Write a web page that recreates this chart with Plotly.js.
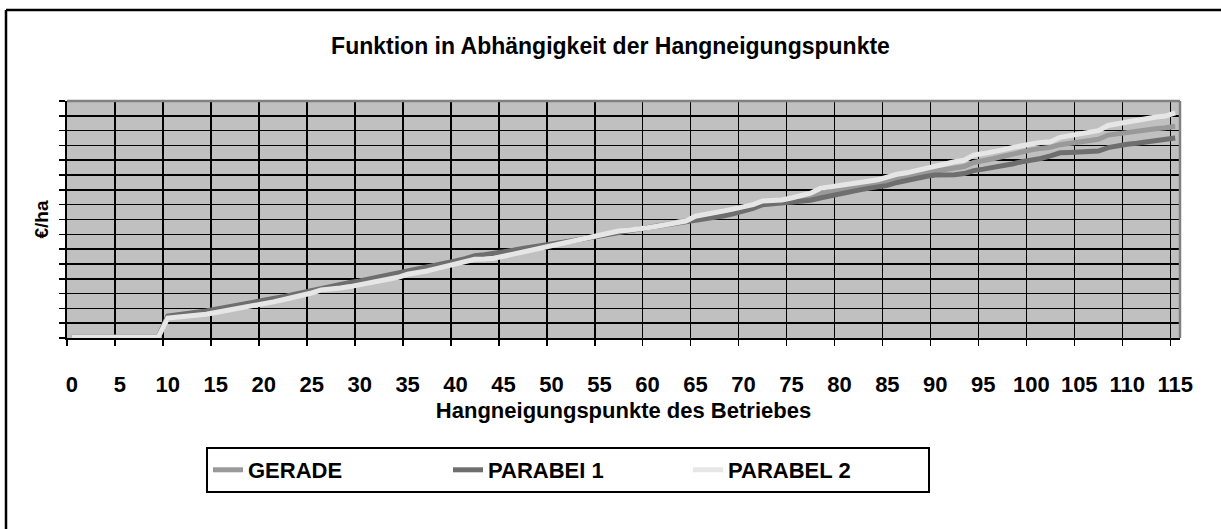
<!DOCTYPE html>
<html>
<head>
<meta charset="utf-8">
<script src="https://cdn.plot.ly/plotly-3.0.1.min.js"></script>
<style>html,body{margin:0;padding:0;background:#fff;}#chart{width:1221px;height:529px;}</style>
</head>
<body>
<div id="chart"></div>
<script>
const categories = Array.from({length:116},(_,i)=>i);
const tickLabels = ["0","5","10","15","20","25","30","35","40","45","50","55","60","65","70","75","80","85","90","95","100","105","110","115"];
const tickPositions = [0,5,10,15,20,25,30,35,40,45,50,55,60,65,70,75,80,85,90,95,100,105,110,115];

const gerade = [0.05,0.05,0.05,0.05,0.05,0.05,0.05,0.05,0.05,0.05,
1.42,1.48,1.53,1.6,1.72,1.84,1.95,2.07,2.18,2.3,
2.42,2.55,2.68,2.82,2.97,3.12,3.3,3.38,3.5,3.6,
3.72,3.84,3.96,4.08,4.25,4.42,4.52,4.65,4.8,4.96,
5.1,5.25,5.43,5.48,5.53,5.66,5.78,5.92,6.05,6.2,
6.3,6.42,6.53,6.66,6.8,6.93,7.06,7.2,7.28,7.34,
7.45,7.55,7.66,7.77,7.88,8.05,8.15,8.28,8.42,8.56,
8.7,8.85,9.1,9.15,9.2,9.3,9.42,9.55,9.78,9.88,
9.98,10.1,10.2,10.32,10.45,10.65,10.85,10.95,11.05,11.18,
11.33,11.42,11.5,11.58,11.85,11.95,12.1,12.25,12.4,12.6,
12.7,12.8,12.88,13.05,13.15,13.24,13.32,13.42,13.7,13.8,
13.88,13.96,14.05,14.12,14.2,14.3];

const parabel1 = [0.05,0.05,0.05,0.05,0.05,0.05,0.05,0.05,0.05,0.05,
1.48,1.55,1.6,1.7,1.82,1.95,2.06,2.18,2.3,2.42,
2.52,2.65,2.78,2.92,3.06,3.2,3.38,3.5,3.62,3.75,
3.85,3.98,4.1,4.22,4.4,4.56,4.65,4.78,4.92,5.08,
5.2,5.35,5.55,5.62,5.7,5.8,5.92,6.04,6.16,6.27,
6.35,6.45,6.55,6.67,6.8,6.92,7.05,7.17,7.28,7.35,
7.45,7.55,7.65,7.75,7.85,7.92,8.0,8.1,8.25,8.4,
8.55,8.75,9.0,9.05,9.1,9.15,9.22,9.3,9.45,9.6,
9.72,9.85,9.98,10.1,10.2,10.3,10.5,10.65,10.78,10.9,
11.0,11.0,11.02,11.1,11.3,11.4,11.5,11.62,11.75,11.9,
12.0,12.12,12.3,12.5,12.52,12.55,12.57,12.62,12.85,13.0,
13.08,13.15,13.25,13.3,13.4,13.5];

const parabel2 = [0.05,0.05,0.05,0.05,0.05,0.05,0.05,0.05,0.05,0.05,
1.35,1.4,1.44,1.5,1.6,1.72,1.83,1.95,2.06,2.18,
2.3,2.44,2.58,2.72,2.88,3.04,3.25,3.28,3.38,3.47,
3.58,3.7,3.82,3.95,4.1,4.3,4.38,4.52,4.68,4.85,
5.0,5.15,5.32,5.34,5.38,5.52,5.66,5.8,5.95,6.12,
6.27,6.4,6.52,6.65,6.8,6.94,7.08,7.22,7.28,7.33,
7.45,7.55,7.67,7.78,7.9,8.22,8.32,8.45,8.58,8.72,
8.85,9.0,9.25,9.28,9.32,9.45,9.6,9.78,10.1,10.18,
10.28,10.38,10.48,10.58,10.68,10.9,11.05,11.15,11.3,11.48,
11.66,11.78,11.9,12.0,12.35,12.45,12.55,12.7,12.85,13.0,
13.1,13.2,13.25,13.55,13.68,13.8,13.9,14.0,14.35,14.48,
14.6,14.72,14.85,14.92,14.98,15.2];

const FONT = '"Liberation Sans", Arial, sans-serif';
const bold = (size)=>({family:FONT, size:size, color:'#000', weight:'bold'});

const traces = [
  {x:categories, y:gerade, name:'GERADE', type:'scatter', mode:'lines', line:{color:'#999999', width:5}},
  {x:categories, y:parabel1, name:'PARABEI 1', type:'scatter', mode:'lines', line:{color:'#6e6e6e', width:5}},
  {x:categories, y:parabel2, name:'PARABEL 2', type:'scatter', mode:'lines', line:{color:'#e6e6e6', width:5}}
];

const L=67, R=1180, T=101, B=338;
const W=1221, H=529;
const pw=R-L, ph=B-T;
const px=v=>(v-L)/pw, py=v=>(B-v)/ph;

const layout = {
  width:W, height:H,
  margin:{l:L, r:W-R, t:T, b:H-B, pad:0},
  paper_bgcolor:'#ffffff',
  plot_bgcolor:'#c0c0c0',
  font:{family:FONT, color:'#000', size:20},
  title:{text:'Funktion in Abhängigkeit der Hangneigungspunkte', font:bold(23), x:0.5, xref:'container', y:1-46/H, yref:'container', yanchor:'middle'},
  showlegend:true,
  legend:{orientation:'h', x:px(568), xanchor:'center', y:py(447), yanchor:'top', bordercolor:'#000', borderwidth:2, bgcolor:'#fff', font:bold(22), entrywidth:195, entrywidthmode:'pixels', traceorder:'normal', tracegroupgap:0},
  xaxis:{
    range:[-0.5,115.5], tickmode:'array', tickvals:tickPositions, ticktext:tickLabels,
    ticks:'', showgrid:false, zeroline:false, showline:true, linecolor:'#000', linewidth:2,
    tickfont:bold(22), ticklabelstandoff:26,
    minor:{tick0:-0.5, dtick:5, showgrid:true, gridcolor:'#000', gridwidth:1.6, ticks:'outside', ticklen:6, tickcolor:'#000', tickwidth:1.6},
    title:{text:'Hangneigungspunkte des Betriebes', font:bold(22), standoff:6},
    fixedrange:true, automargin:false
  },
  yaxis:{
    range:[0,16], dtick:1, tick0:0, showticklabels:false, ticks:'outside', ticklen:6, tickcolor:'#000', tickwidth:1.6,
    showgrid:true, gridcolor:'#000', gridwidth:1.6, zeroline:false, showline:true, linecolor:'#000', linewidth:2,
    title:{text:'€/ha', font:bold(19), standoff:5},
    fixedrange:true, automargin:false
  },
  shapes:[
    {type:'line', xref:'paper', yref:'paper', x0:0, x1:1, y0:1, y1:1, line:{color:'#808080', width:2.5}},
    {type:'line', xref:'paper', yref:'paper', x0:1, x1:1, y0:0, y1:1, line:{color:'#808080', width:2.5}},
    {type:'line', xref:'paper', yref:'paper', x0:px(6), x1:px(6), y0:py(10), y1:py(600), line:{color:'#000', width:2.5}},
    {type:'line', xref:'paper', yref:'paper', x0:px(6), x1:px(1300), y0:py(10), y1:py(10), line:{color:'#000', width:2.5}}
  ]
};

Plotly.newPlot('chart', traces, layout, {staticPlot:true, displayModeBar:false});
</script>
</body>
</html>
